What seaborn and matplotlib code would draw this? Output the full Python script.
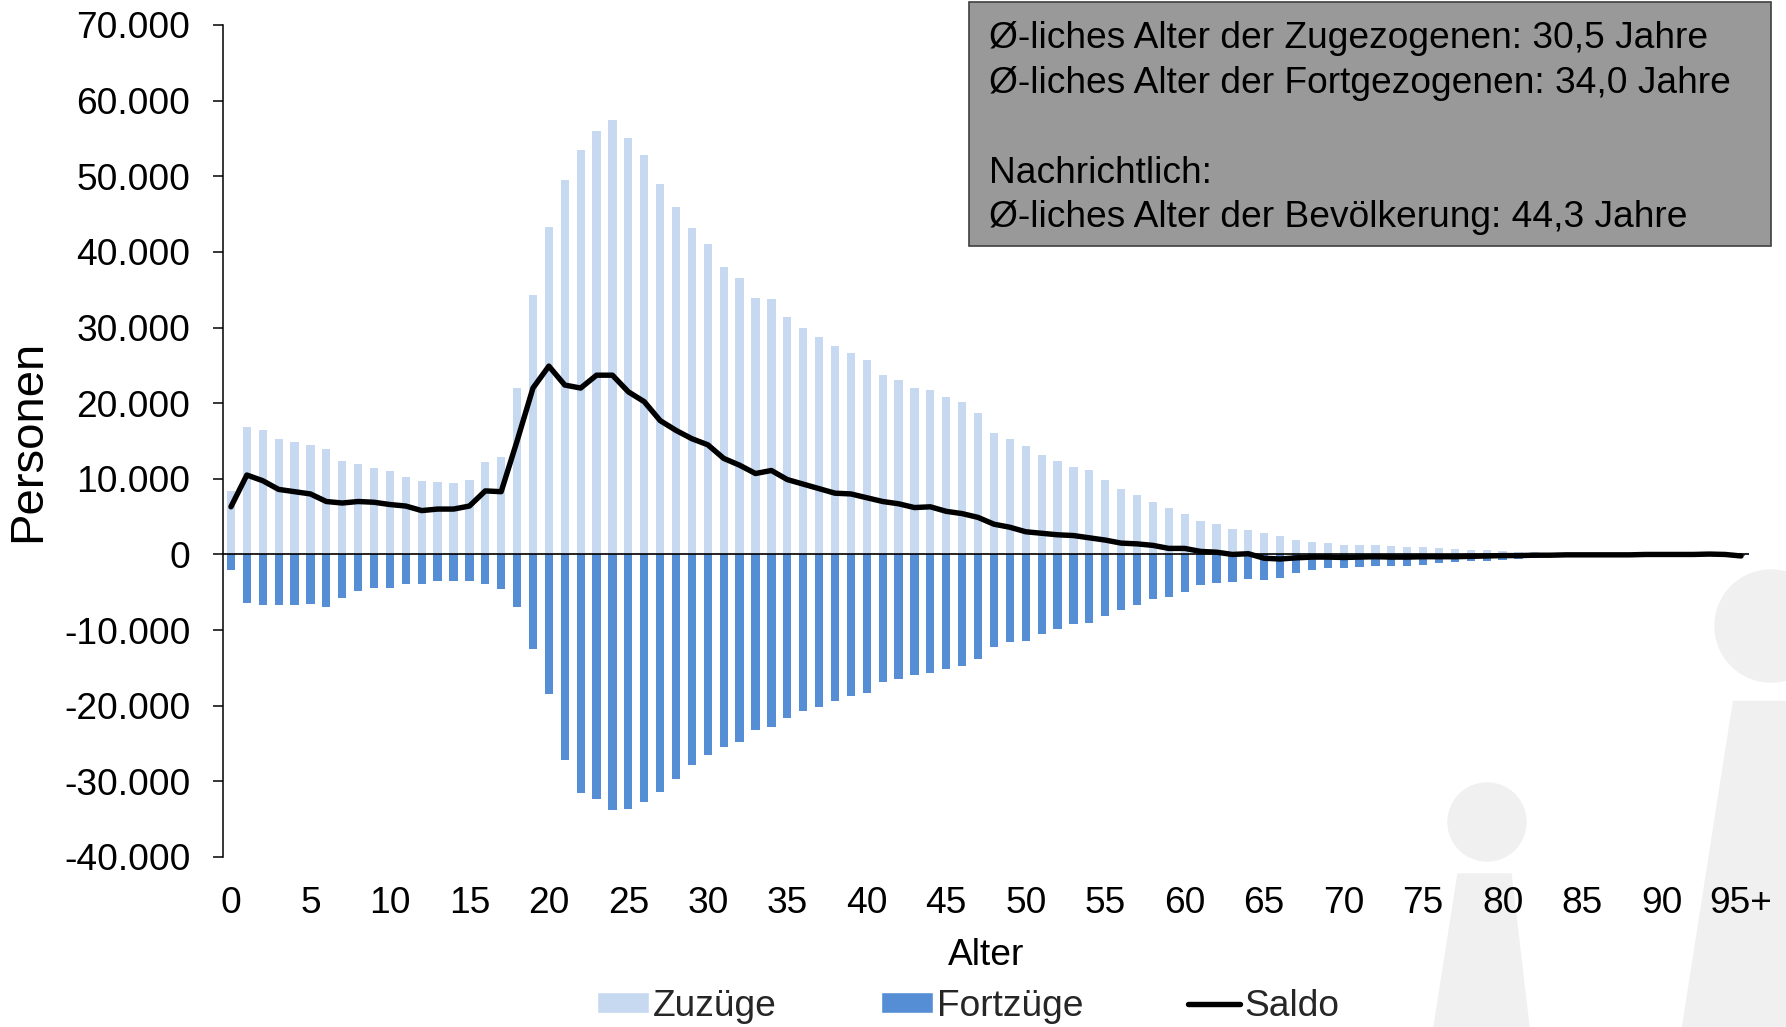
import numpy as np
import pandas as pd
import matplotlib
matplotlib.use("Agg")
import matplotlib.pyplot as plt
import seaborn as sns
from matplotlib.patches import Rectangle, Ellipse, Polygon, Patch
from matplotlib.lines import Line2D
from matplotlib.ticker import FuncFormatter

# Ages 0 .. 95+ (one bar per year of age)
AGES = [str(a) for a in range(95)] + ["95+"]

# Zuzüge (in-migration), in thousand persons
ZUZUEGE_K = [
    8.4, 16.8, 16.5, 15.2, 14.9, 14.5, 13.9, 12.4, 11.9, 11.4,
    11.0, 10.3, 9.65, 9.6, 9.5, 9.8, 12.2, 12.9, 22.0, 34.3,
    43.3, 49.5, 53.5, 56.0, 57.4, 55.0, 52.8, 49.0, 46.0, 43.2,
    41.0, 38.0, 36.5, 33.9, 33.8, 31.4, 30.0, 28.8, 27.5, 26.6,
    25.7, 23.7, 23.1, 22.0, 21.7, 20.8, 20.1, 18.7, 16.0, 15.2,
    14.4, 13.2, 12.3, 11.6, 11.1, 9.9, 8.7, 7.9, 6.9, 6.1,
    5.4, 4.4, 4.0, 3.4, 3.2, 2.9, 2.4, 1.9, 1.7, 1.45,
    1.3, 1.2, 1.2, 1.15, 1.05, 0.97, 0.84, 0.7, 0.62, 0.57,
    0.48, 0.35, 0.3, 0.25, 0.2, 0.17, 0.14, 0.12, 0.1, 0.08,
    0.06, 0.05, 0.04, 0.03, 0.02, 0.04,
]

# Fortzüge (out-migration), in thousand persons, drawn as negative bars
FORTZUEGE_K = [
    -2.0, -6.4, -6.7, -6.7, -6.7, -6.5, -7.0, -5.7, -4.8, -4.5,
    -4.5, -3.9, -3.85, -3.5, -3.5, -3.45, -3.85, -4.6, -7.0, -12.5,
    -18.5, -27.2, -31.6, -32.3, -33.8, -33.6, -32.7, -31.4, -29.7, -27.9,
    -26.5, -25.4, -24.8, -23.2, -22.8, -21.6, -20.7, -20.2, -19.4, -18.7,
    -18.3, -16.8, -16.5, -16.0, -15.7, -15.2, -14.8, -13.8, -12.2, -11.6,
    -11.4, -10.5, -9.8, -9.2, -9.0, -8.1, -7.4, -6.7, -5.9, -5.6,
    -4.9, -4.1, -3.8, -3.6, -3.3, -3.4, -3.1, -2.4, -2.1, -1.8,
    -1.8, -1.6, -1.55, -1.55, -1.5, -1.37, -1.15, -1.06, -0.9, -0.8,
    -0.7, -0.6, -0.45, -0.35, -0.3, -0.25, -0.2, -0.15, -0.12, -0.1,
    -0.08, -0.06, -0.05, -0.04, -0.03, -0.2,
]

# Saldo (net migration), in thousand persons
SALDO_K = [
    6.3, 10.5, 9.75, 8.6, 8.3, 8.0, 7.0, 6.8, 7.0, 6.9,
    6.6, 6.4, 5.8, 6.0, 6.0, 6.4, 8.4, 8.3, 15.0, 22.0,
    24.9, 22.4, 22.0, 23.7, 23.7, 21.5, 20.2, 17.7, 16.4, 15.3,
    14.5, 12.7, 11.8, 10.7, 11.1, 9.9, 9.3, 8.7, 8.1, 8.0,
    7.5, 7.0, 6.7, 6.2, 6.3, 5.7, 5.4, 4.9, 4.0, 3.6,
    3.0, 2.8, 2.6, 2.5, 2.2, 1.9, 1.5, 1.4, 1.2, 0.8,
    0.8, 0.4, 0.3, 0.0, 0.1, -0.5, -0.6, -0.45, -0.35, -0.35,
    -0.4, -0.35, -0.3, -0.35, -0.35, -0.3, -0.3, -0.3, -0.25, -0.2,
    -0.15, -0.15, -0.1, -0.1, -0.05, -0.05, -0.05, -0.05, -0.05, 0.0,
    0.0, 0.0, 0.0, 0.05, 0.0, -0.2,
]

Y_TICKS = [-40000, -30000, -20000, -10000, 0, 10000, 20000, 30000, 40000, 50000, 60000, 70000]
X_TICK_STEP = 5

INFO_TEXT = ("Ø-liches Alter der Zugezogenen: 30,5 Jahre\n"
             "Ø-liches Alter der Fortgezogenen: 34,0 Jahre\n"
             "\n"
             "Nachrichtlich:\n"
             "Ø-liches Alter der Bevölkerung: 44,3 Jahre")

COLOR_ZU = '#C6D9F1'
COLOR_FORT = '#558ED5'
COLOR_SALDO = '#000000'

W, H = 1786, 1027
FS = 26.7

sns.set_style('white')
plt.rcParams['font.family'] = ['Liberation Sans', 'DejaVu Sans']

df = pd.DataFrame({
    'alter': AGES,
    'zuzuege': np.array(ZUZUEGE_K) * 1000,
    'fortzuege': np.array(FORTZUEGE_K) * 1000,
    'saldo': np.array(SALDO_K) * 1000,
})
df['pos'] = np.arange(len(df))

fig = plt.figure(figsize=(W / 100, H / 100), dpi=100)
ax = fig.add_axes([223 / W, 1 - 857 / H, (1749 - 223) / W, (857 - 25) / H])
ax.set_facecolor('none')


def fig_xy(x, y):
    # pixel position (from top-left) -> figure fraction
    return (x / W, 1 - y / H)


# faint "i i" watermark in the lower right corner
wm = '#F0F0F0'
fig.add_artist(Ellipse(fig_xy(1487, 822), 2 * 39 / W, 2 * 39 / H,
                       transform=fig.transFigure, color=wm, zorder=-5))
fig.add_artist(Polygon([fig_xy(1458, 874), fig_xy(1511, 874), fig_xy(1529, 1027), fig_xy(1434, 1027)],
                       closed=True, transform=fig.transFigure, color=wm, zorder=-5))
fig.add_artist(Ellipse(fig_xy(1771, 626), 2 * 56 / W, 2 * 56 / H,
                       transform=fig.transFigure, color=wm, zorder=-5))
fig.add_artist(Polygon([fig_xy(1733, 701), fig_xy(1786, 701), fig_xy(1786, 1027), fig_xy(1682, 1027)],
                       closed=True, transform=fig.transFigure, color=wm, zorder=-5))

# bars
sns.barplot(data=df, x='alter', y='zuzuege', color=COLOR_ZU, saturation=1,
            width=0.52, errorbar=None, linewidth=0, ax=ax, zorder=2)
sns.barplot(data=df, x='alter', y='fortzuege', color=COLOR_FORT, saturation=1,
            width=0.52, errorbar=None, linewidth=0, ax=ax, zorder=2)

ax.axhline(0, color='black', lw=1.2, zorder=3)

# Saldo line
sns.lineplot(data=df, x='pos', y='saldo', color=COLOR_SALDO, lw=3.9, ax=ax, zorder=4)

ax.set_xlim(-0.5, len(AGES) - 0.5)
ax.set_ylim(-40000, 70000)
ax.set_yticks(Y_TICKS)
ax.yaxis.set_major_formatter(FuncFormatter(lambda v, p: f"{int(v):,}".replace(",", ".")))

xt = list(range(0, len(AGES), X_TICK_STEP))
ax.set_xticks(xt)
ax.set_xticklabels([AGES[i] for i in xt])

for s in ['top', 'right', 'bottom']:
    ax.spines[s].set_visible(False)
ax.spines['left'].set_color('black')
ax.spines['left'].set_linewidth(1.1)

ax.tick_params(axis='y', direction='out', length=7.5, width=1.1, color='black',
               labelsize=FS, pad=16, left=True)
ax.tick_params(axis='x', length=0, labelsize=FS, pad=21)
for lab in ax.get_xticklabels() + ax.get_yticklabels():
    lab.set_color('black')

ax.set_xlabel('Alter', fontsize=FS, color='black')
ax.xaxis.set_label_coords(0.5, -0.097)
ax.set_ylabel('Personen', fontsize=34, color='black')
ax.yaxis.set_label_coords(-0.113, 0.5)

# info box
fig.add_artist(Rectangle(fig_xy(969, 246), (1771 - 969) / W, (246 - 2) / H,
                         transform=fig.transFigure, facecolor='#999999',
                         edgecolor='#404040', lw=1.2, zorder=5))
fig.text(989 / W, 1 - 21.5 / H, INFO_TEXT, fontsize=FS, color='black',
         ha='left', va='top', linespacing=1.36, zorder=6)

handles = [Patch(facecolor=COLOR_ZU, label='Zuzüge'),
           Patch(facecolor=COLOR_FORT, label='Fortzüge'),
           Line2D([0], [0], color=COLOR_SALDO, lw=3.9, label='Saldo')]
fig.legend(handles=handles, loc='center', bbox_to_anchor=(968 / W, 1 - 1006 / H),
           ncol=3, frameon=False, fontsize=FS, handlelength=1.4, handleheight=0.5,
           handletextpad=0.12, columnspacing=2.8, borderpad=0)

fig.savefig('out.png', dpi=100)
